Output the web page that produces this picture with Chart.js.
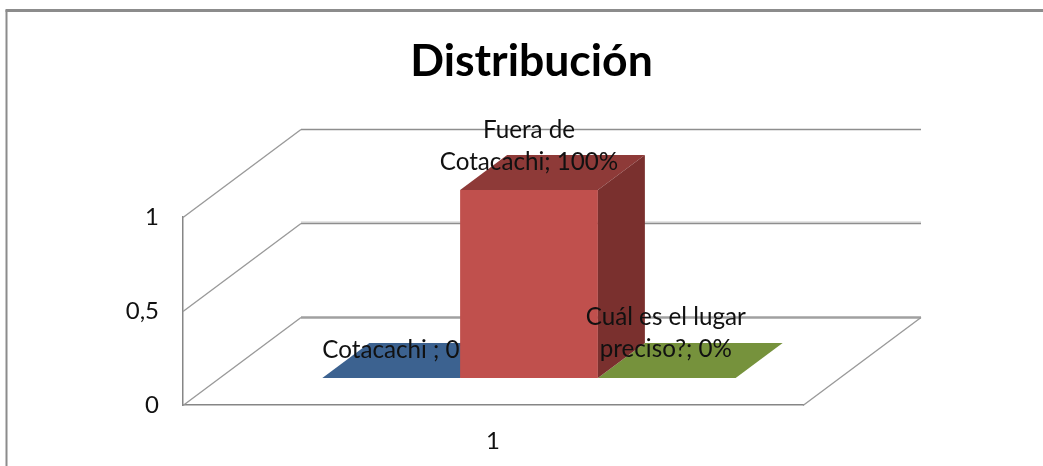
<!DOCTYPE html>
<html>
<head>
<meta charset="utf-8">
<style>html,body{margin:0;padding:0;background:#fff}#w{position:relative;width:1043px;height:466px}</style>
<script src="https://cdn.jsdelivr.net/npm/chart.js@4"></script>
</head>
<body>
<div id="w"><canvas id="c" width="1043" height="466"></canvas></div>
<script>
const categories = ["1"];
const seriesNames = ["Cotacachi ", "Fuera de Cotacachi", "Cuál es el lugar preciso?"];
const seriesValues = [[0], [1], [0]];
const seriesColors = ["#4F81BD", "#C0504D", "#9BBB59"];
const topColors = ["#3C6290", "#8E3A38", "#76923C"];
const sideColors = ["#2F4D72", "#7A302E", "#5E7530"];
const dataLabelLines = [["Cotacachi ; 0%"], ["Fuera de", "Cotacachi; 100%"], ["Cuál es el lugar", "preciso?; 0%"]];
const yTicks = [0, 0.5, 1];

const FONT = "Lato, 'Open Sans', sans-serif";
const WALL = {dx: 118, dy: -88};        // full floor depth
const BAR_PLANE = {dx: 36, dy: -27};    // where the bars stand on the floor
const BAR_DEPTH = {dx: 47, dy: -35};    // depth of one bar
const AXIS = "#868686";

function poly(ctx, pts, fill) {
  ctx.beginPath();
  pts.forEach((p, i) => i ? ctx.lineTo(p[0], p[1]) : ctx.moveTo(p[0], p[1]));
  ctx.closePath();
  ctx.fillStyle = fill;
  ctx.fill();
}
function seg(ctx, x1, y1, x2, y2, color, w) {
  ctx.beginPath();
  ctx.moveTo(x1, y1);
  ctx.lineTo(x2, y2);
  ctx.strokeStyle = color;
  ctx.lineWidth = w;
  ctx.stroke();
}
function barBox(chart, i) {
  const el = chart.getDatasetMeta(i).data[0];
  const p = el.getProps(["x", "y", "base", "width"], true);
  return {
    l: p.x - p.width / 2 + BAR_PLANE.dx,
    r: p.x + p.width / 2 + BAR_PLANE.dx,
    top: p.y + BAR_PLANE.dy,
    base: p.base + BAR_PLANE.dy
  };
}
function topFace(ctx, b, color) {
  poly(ctx, [[b.l, b.top], [b.r, b.top], [b.r + BAR_DEPTH.dx, b.top + BAR_DEPTH.dy], [b.l + BAR_DEPTH.dx, b.top + BAR_DEPTH.dy]], color);
}
function labelLines(ctx, lines, x, lastY, align) {
  ctx.font = "24.2px " + FONT;
  ctx.fillStyle = "#111";
  ctx.textAlign = align;
  ctx.textBaseline = "middle";
  lines.forEach((t, k) => ctx.fillText(t, x, lastY - (lines.length - 1 - k) * 32));
}

const frame3d = {
  id: "frame3d",
  beforeDraw(chart) {
    const ctx = chart.ctx;
    ctx.save();
    seg(ctx, 6.5, 466, 6.5, 10, "#8C8C8C", 2);
    seg(ctx, 5.5, 10.5, 1043, 10.5, "#8C8C8C", 3);
    ctx.restore();
  },
  beforeDatasetsDraw(chart) {
    const ctx = chart.ctx, y = chart.scales.y, a = chart.chartArea;
    ctx.save();
    const backRight = a.right + WALL.dx;
    yTicks.forEach(v => {
      const py = Math.round(y.getPixelForValue(v)) + 0.5;
      const by = py + WALL.dy;
      seg(ctx, a.left, py, a.left + WALL.dx, by, "#9A9A9A", 1.4);
      if (v === 0.5) seg(ctx, a.left + WALL.dx, by - 1.5, backRight, by - 1.5, "#DDDDDD", 1.6);
      seg(ctx, a.left + WALL.dx, by, backRight, by, v === 0 ? "#A0A0A0" : "#8E8E8E", v === 0 ? 2.6 : 1.6);
    });
    const f = Math.round(y.getPixelForValue(0)) + 0.5;
    seg(ctx, a.right, f, backRight, f + WALL.dy, "#9A9A9A", 1.4);
    // flat zero-height bars lie on the floor, behind the tall one
    [0, 2].forEach(i => topFace(ctx, barBox(chart, i), topColors[i]));
    const b0 = barBox(chart, 0);
    labelLines(ctx, dataLabelLines[0], b0.l, b0.top - 28, "left");
    ctx.restore();
    ctx.save();
    ctx.translate(BAR_PLANE.dx, BAR_PLANE.dy);
  },
  afterDatasetsDraw(chart) {
    const ctx = chart.ctx;
    ctx.restore();
    ctx.save();
    const b = barBox(chart, 1);
    topFace(ctx, b, topColors[1]);
    poly(ctx, [[b.r, b.top], [b.r + BAR_DEPTH.dx, b.top + BAR_DEPTH.dy], [b.r + BAR_DEPTH.dx, b.base + BAR_DEPTH.dy], [b.r, b.base]], sideColors[1]);
    labelLines(ctx, dataLabelLines[1], (b.l + b.r) / 2, b.top - 28, "center");
    const g = barBox(chart, 2);
    labelLines(ctx, dataLabelLines[2], (g.l + g.r) / 2 - 1, g.top - 29, "center");
    ctx.restore();
  },
  afterLayout(chart) {
    chart.titleBlock.left += 130;
    chart.titleBlock.right += 130;
  }
};

new Chart(document.getElementById("c"), {
  type: "bar",
  plugins: [frame3d],
  data: {
    labels: categories,
    datasets: seriesNames.map((name, i) => ({
      label: name,
      data: seriesValues[i],
      backgroundColor: seriesColors[i],
      borderWidth: 0,
      clip: false,
      categoryPercentage: 2 / 3,
      barPercentage: 1
    }))
  },
  options: {
    responsive: false,
    animation: false,
    events: [],
    layout: {padding: {left: 0, right: 240, top: 0, bottom: 0}},
    plugins: {
      legend: {display: false},
      tooltip: {enabled: false},
      title: {
        display: true,
        text: "Distribución",
        color: "#000",
        font: {family: FONT, size: 44.5, weight: "bold", lineHeight: 1.2},
        padding: {top: 35, bottom: 128.6}
      }
    },
    scales: {
      x: {
        grid: {display: false, drawTicks: false},
        border: {display: true, color: AXIS, width: 1.5},
        ticks: {color: "#111", padding: 22, font: {family: FONT, size: 24}},
        afterFit(s) { s.height = 61; }
      },
      y: {
        min: 0,
        max: 1,
        afterBuildTicks(s) { s.ticks = yTicks.map(v => ({value: v})); },
        grid: {display: false, drawTicks: false},
        border: {display: true, color: AXIS, width: 1.5},
        ticks: {
          color: "#111",
          padding: 24,
          font: {family: FONT, size: 24},
          callback: v => String(v).replace(".", ",")
        },
        afterFit(s) { s.width = 183; }
      }
    }
  }
});
</script>
</body>
</html>
